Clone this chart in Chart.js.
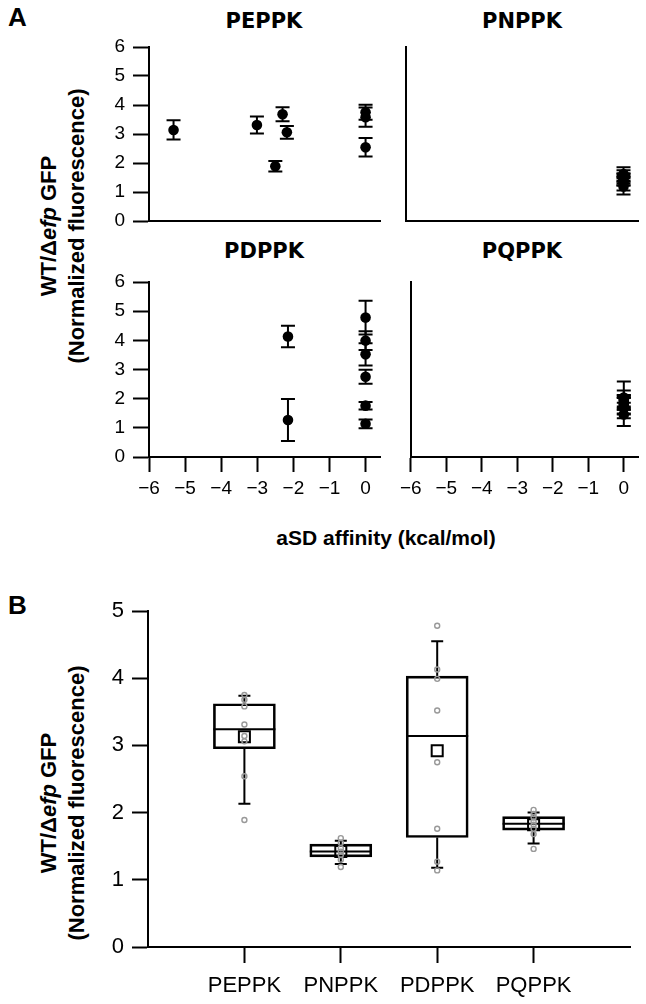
<!DOCTYPE html>
<html>
<head>
<meta charset="utf-8">
<script src="https://cdn.jsdelivr.net/npm/chart.js@4.4.1/dist/chart.umd.min.js"></script>
<style>
  body { margin: 0; background: #fff; }
  #fig { position: relative; width: 646px; height: 1004px; overflow: hidden;
         font-family: "Liberation Sans", Arial, sans-serif; color: #000; }
  #fig canvas { position: absolute; }
  .lbl { position: absolute; white-space: nowrap; line-height: 1; transform: translate(-50%, -50%); }
  .panel { position: absolute; font-weight: bold; font-size: 26px; line-height: 1; }
  .sub { font-family: "DejaVu Sans", sans-serif; font-weight: bold; font-size: 21px; }
  .ytitle { position: absolute; white-space: nowrap; text-align: center; font-weight: bold;
            font-size: 22px; line-height: 28px; transform: translate(-50%, -50%) rotate(-90deg); }
</style>
</head>
<body>
<div id="fig">
  <div class="panel" style="left:8px; top:4px">A</div>
  <div class="panel" style="left:8px; top:592px">B</div>

  <div class="lbl sub" style="left:264px; top:21px">PEPPK</div>
  <div class="lbl sub" style="left:522px; top:21px">PNPPK</div>
  <div class="lbl sub" style="left:264px; top:251px">PDPPK</div>
  <div class="lbl sub" style="left:522px; top:251px">PQPPK</div>

  <div class="ytitle" style="left:63px; top:226px">WT/Δ<i>efp</i> GFP<br>(Normalized fluorescence)</div>
  <div class="ytitle" style="left:63px; top:803px">WT/Δ<i>efp</i> GFP<br>(Normalized fluorescence)</div>
  <div class="lbl" style="left:386px; top:537px; font-weight:bold; font-size:21px">aSD affinity (kcal/mol)</div>

  <canvas id="aTL" width="335" height="218" style="left:60px; top:25px"></canvas>
  <canvas id="aTR" width="251" height="218" style="left:395px; top:25px"></canvas>
  <canvas id="aBL" width="335" height="250" style="left:60px; top:260px"></canvas>
  <canvas id="aBR" width="251" height="250" style="left:395px; top:260px"></canvas>
  <canvas id="bBox" width="586" height="419" style="left:60px; top:585px"></canvas>
</div>

<script>
const groups = ["PEPPK", "PNPPK", "PDPPK", "PQPPK"];

// panel A: aSD affinity (kcal/mol), WT/Δefp GFP ratio, error (±)
const pepX = [-5.32, -3.01, -2.30, -2.50, -2.18, 0, 0, 0];
const pepY = [3.14, 3.31, 3.68, 1.89, 3.06, 3.75, 3.58, 2.54];
const pepErr = [0.33, 0.29, 0.24, 0.18, 0.22, 0.26, 0.33, 0.32];

const pnpX = [0, 0, 0, 0, 0, 0, 0];
const pnpY = [1.62, 1.55, 1.47, 1.42, 1.37, 1.30, 1.19];
const pnpErr = [0.23, 0.20, 0.18, 0.20, 0.15, 0.25, 0.28];

const pdpX = [-2.15, -2.15, 0, 0, 0, 0, 0, 0];
const pdpY = [4.13, 1.27, 4.78, 3.99, 3.52, 2.75, 1.76, 1.14];
const pdpErr = [0.37, 0.72, 0.58, 0.32, 0.38, 0.24, 0.13, 0.15];

const pqpX = [0, 0, 0, 0, 0, 0, 0, 0];
const pqpY = [2.04, 1.98, 1.93, 1.87, 1.82, 1.76, 1.68, 1.46];
const pqpErr = [0.55, 0.30, 0.20, 0.25, 0.20, 0.30, 0.35, 0.40];

// panel B: box statistics per group
const boxQ1 = [2.95, 1.34, 1.63, 1.74];
const boxMedian = [3.24, 1.42, 3.14, 1.835];
const boxQ3 = [3.62, 1.53, 4.03, 1.94];
const whiskerLow = [2.13, 1.235, 1.18, 1.54];
const whiskerHigh = [3.74, 1.58, 4.55, 2.0];
const boxMean = [3.13, 1.42, 2.92, 1.82];

const groupY = [pepY, pnpY, pdpY, pqpY];

const tickFont = { family: "Liberation Sans", size: 19 };
const minus = v => (v < 0 ? "\u2212" + Math.abs(v) : String(v));

const errorBars = {
    id: "errorBars",
    beforeDatasetsDraw(chart) {
        const { ctx, scales: { x, y } } = chart;
        ctx.save();
        ctx.strokeStyle = "#000";
        ctx.lineWidth = 2;
        chart.data.datasets.forEach((ds) => {
            if (!ds.errors) return;
            ds.data.forEach((p, i) => {
                const px = x.getPixelForValue(p.x);
                const top = y.getPixelForValue(p.y + ds.errors[i]);
                const bot = y.getPixelForValue(p.y - ds.errors[i]);
                ctx.beginPath();
                ctx.moveTo(px, top); ctx.lineTo(px, bot);
                ctx.moveTo(px - 7, top); ctx.lineTo(px + 7, top);
                ctx.moveTo(px - 7, bot); ctx.lineTo(px + 7, bot);
                ctx.stroke();
            });
        });
        ctx.restore();
    },
};

// canvas rect and plot area in page pixels -> fixed layout
// (margins kept wider than the tick-label padding so the area lands exactly)
function scatterPanel(id, xs, ys, errs, rect, area, showY, showX) {
    const yWidth = area.left - rect.left;
    const xHeight = rect.top + rect.h - area.bottom;
    new Chart(document.getElementById(id), {
        type: "scatter",
        data: {
            datasets: [
                {
                    data: xs.map((x, i) => ({ x: x, y: ys[i] })),
                    errors: errs,
                    pointRadius: 5.3,
                    pointBackgroundColor: "#000",
                    pointBorderWidth: 0,
                },
            ],
        },
        options: {
            responsive: false,
            animation: false,
            events: [],
            layout: {
                padding: { top: area.top - rect.top, right: rect.left + rect.w - area.right, left: 0, bottom: 0 },
            },
            plugins: { legend: { display: false }, tooltip: { enabled: false } },
            scales: {
                x: {
                    type: "linear",
                    min: -6,
                    max: 0.4,
                    afterFit: (s) => { s.height = xHeight; },
                    border: { display: true, color: "#000", width: 2 },
                    grid: { display: showX, drawOnChartArea: false, tickLength: 15, tickWidth: 2, tickColor: "#000" },
                    ticks: {
                        display: showX, stepSize: 1, includeBounds: false, padding: 5,
                        color: "#000", font: tickFont, maxRotation: 0, callback: minus,
                    },
                },
                y: {
                    min: 0,
                    max: 6,
                    afterFit: (s) => { s.width = yWidth; },
                    border: { display: true, color: "#000", width: 2 },
                    grid: { display: showY, drawOnChartArea: false, tickLength: 16, tickWidth: 2, tickColor: "#000" },
                    ticks: { display: showY, stepSize: 1, padding: 8, color: "#000", font: tickFont },
                },
            },
        },
        plugins: [errorBars],
    });
}

scatterPanel("aTL", pepX, pepY, pepErr, { left: 60, top: 25, w: 335, h: 218 },
    { left: 149, top: 47, right: 380, bottom: 221 }, true, false);
scatterPanel("aTR", pnpX, pnpY, pnpErr, { left: 395, top: 25, w: 251, h: 218 },
    { left: 406, top: 47, right: 638, bottom: 221 }, false, false);
scatterPanel("aBL", pdpX, pdpY, pdpErr, { left: 60, top: 260, w: 335, h: 250 },
    { left: 149, top: 282, right: 380, bottom: 457 }, true, true);
scatterPanel("aBR", pqpX, pqpY, pqpErr, { left: 395, top: 260, w: 251, h: 250 },
    { left: 406, top: 282, right: 638, bottom: 457 }, false, true);

// whiskers and median lines, drawn from the box bars
const boxParts = {
    id: "boxParts",
    beforeDatasetsDraw(chart) {
        const { ctx, scales: { y } } = chart;
        const bars = chart.getDatasetMeta(0).data;
        ctx.save();
        ctx.strokeStyle = "#000";
        ctx.lineWidth = 2;
        bars.forEach((bar, i) => {
            const half = bar.width / 2;
            const med = y.getPixelForValue(boxMedian[i]);
            const q1 = y.getPixelForValue(boxQ1[i]);
            const q3 = y.getPixelForValue(boxQ3[i]);
            const lo = y.getPixelForValue(whiskerLow[i]);
            const hi = y.getPixelForValue(whiskerHigh[i]);
            ctx.beginPath();
            ctx.moveTo(bar.x - half, med); ctx.lineTo(bar.x + half, med);
            ctx.moveTo(bar.x, q3); ctx.lineTo(bar.x, hi);
            ctx.moveTo(bar.x - 6, hi); ctx.lineTo(bar.x + 6, hi);
            ctx.moveTo(bar.x, q1); ctx.lineTo(bar.x, lo);
            ctx.moveTo(bar.x - 6, lo); ctx.lineTo(bar.x + 6, lo);
            ctx.stroke();
        });
        ctx.restore();
    },
};

const bRect = { left: 60, top: 585, w: 586, h: 419 };
const bArea = { left: 148, top: 611, right: 630, bottom: 947 };

new Chart(document.getElementById("bBox"), {
    type: "scatter",
    data: {
        datasets: [
            {
                type: "bar",
                data: groups.map((g, i) => ({ x: i + 1, y: [boxQ1[i], boxQ3[i]] })),
                backgroundColor: "rgba(0,0,0,0)",
                borderColor: "#000",
                borderWidth: 2,
                borderSkipped: false,
                barThickness: 62,
                order: 2,
            },
            {
                data: groups.map((g, i) => ({ x: i + 1, y: boxMean[i] })),
                pointStyle: "rect",
                pointRadius: 7.8,
                pointBorderWidth: 2,
                pointBorderColor: "#000",
                pointBackgroundColor: "rgba(0,0,0,0)",
                order: 1,
            },
            {
                data: groupY.flatMap((vals, i) => vals.map((v) => ({ x: i + 1, y: v }))),
                pointRadius: 2.5,
                pointBorderWidth: 1.4,
                pointBorderColor: "#999",
                pointBackgroundColor: "rgba(0,0,0,0)",
                order: 0,
            },
        ],
    },
    options: {
        responsive: false,
        animation: false,
        events: [],
        layout: {
            padding: { top: bArea.top - bRect.top, right: bRect.left + bRect.w - bArea.right, left: 0, bottom: 0 },
        },
        plugins: { legend: { display: false }, tooltip: { enabled: false } },
        scales: {
            x: {
                type: "linear",
                min: 0,
                max: 5,
                offset: false,
                afterFit: (s) => { s.height = bRect.top + bRect.h - bArea.bottom; },
                afterBuildTicks: (s) => { s.ticks = groups.map((g, i) => ({ value: i + 1 })); },
                border: { display: true, color: "#000", width: 2 },
                grid: { drawOnChartArea: false, offset: false, tickLength: 16, tickWidth: 2, tickColor: "#000" },
                ticks: {
                    padding: 10, color: "#000", maxRotation: 0,
                    font: { family: "Liberation Sans", size: 22 },
                    callback: (v) => groups[v - 1],
                },
            },
            y: {
                min: 0,
                max: 5,
                afterFit: (s) => { s.width = bArea.left - bRect.left; },
                border: { display: true, color: "#000", width: 2 },
                grid: { drawOnChartArea: false, tickLength: 16, tickWidth: 2, tickColor: "#000" },
                ticks: { stepSize: 1, padding: 8, color: "#000", font: { family: "Liberation Sans", size: 22 } },
            },
        },
    },
    plugins: [boxParts],
});
</script>
</body>
</html>
